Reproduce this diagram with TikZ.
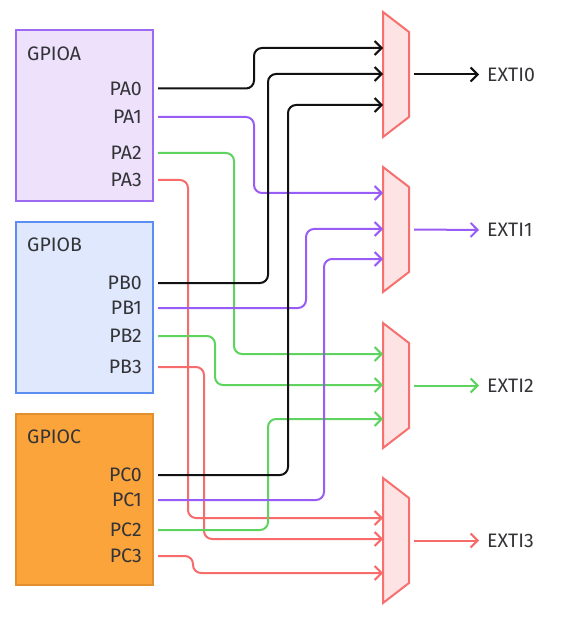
\documentclass[tikz,border=0pt]{standalone}
\usepackage{fontspec}
\setmainfont{Fira Sans}
\usetikzlibrary{arrows.meta}
\definecolor{txt}{HTML}{333338}
\definecolor{afill}{HTML}{EDE1FC}
\definecolor{adraw}{HTML}{9C6BF2}
\definecolor{bfill}{HTML}{DFE8FC}
\definecolor{bdraw}{HTML}{5B8EF0}
\definecolor{cfill}{HTML}{FBA43B}
\definecolor{cdraw}{HTML}{E0902F}
\definecolor{mfill}{HTML}{FDE3E3}
\definecolor{mdraw}{HTML}{F77070}
\definecolor{wblk}{HTML}{111111}
\definecolor{wpur}{HTML}{9A5CF6}
\definecolor{wgrn}{HTML}{5FD35F}
\definecolor{wred}{HTML}{F76B6B}
\begin{document}
\begin{tikzpicture}[x=1pt,y=-1pt,
  lbl/.style={font=\fontsize{19.5}{22}\selectfont, text=txt, inner sep=0pt, text height=13.5pt, text depth=0pt},
  port/.style={lbl, anchor=east},
  title/.style={lbl, anchor=west},
  gbox/.style={line width=2pt},
  mux/.style={draw=mdraw, fill=mfill, line width=2pt, line join=miter},
  wire/.style={line width=2pt, rounded corners=8pt, -{Straight Barb[length=7pt,width=14pt,line width=2pt]}},
]
\useasboundingbox (0,0) rectangle (560,617);

% GPIO boxes
\draw[gbox, draw=adraw, fill=afill] (16,30) rectangle (153,201);
\draw[gbox, draw=bdraw, fill=bfill] (16,222) rectangle (153,393);
\draw[gbox, draw=cdraw, fill=cfill] (16,414) rectangle (153,585);

\node[title] (ga) at (27,54) {GPIOA};
\node[title] (gb) at (27,245) {GPIOB};
\node[title] (gc) at (27,437) {GPIOC};

\node[port] (pa0) at (142,88.5) {PA0};
\node[port] (pa1) at (142,117) {PA1};
\node[port] (pa2) at (142,153) {PA2};
\node[port] (pa3) at (142,180) {PA3};
\node[port] (pb0) at (142,283) {PB0};
\node[port] (pb1) at (142,308) {PB1};
\node[port] (pb2) at (142,336) {PB2};
\node[port] (pb3) at (142,367) {PB3};
\node[port] (pc0) at (142,475) {PC0};
\node[port] (pc1) at (142,500) {PC1};
\node[port] (pc2) at (142,530) {PC2};
\node[port] (pc3) at (142,556) {PC3};

% wire start points
\foreach \n/\y in {a0/88.5,a1/117,a2/153,a3/180,b0/283,b1/308,b2/336,b3/367,c0/475,c1/500,c2/530,c3/556}
  \coordinate (s\n) at (158,\y);

% multiplexers
\foreach \k/\t in {0/12,1/167,2/323,3/478}{
  \draw[mux] (383,\t) -- (409,\t+20) -- (409,\t+105) -- (383,\t+125) -- cycle;
  \coordinate (o\k) at (414,\t+62.5);
}
% mux inputs
\coordinate (m0a) at (383,48);  \coordinate (m0b) at (383,74);  \coordinate (m0c) at (383,105);
\coordinate (m1a) at (383,193); \coordinate (m1b) at (383,229); \coordinate (m1c) at (383,259);
\coordinate (m2a) at (383,354); \coordinate (m2b) at (383,385); \coordinate (m2c) at (383,419);
\coordinate (m3a) at (383,518); \coordinate (m3b) at (383,539); \coordinate (m3c) at (383,573);

% red
\draw[wire, wred] (sa3) -| (188,518) -- (m3a);
\draw[wire, wred] (sb3) -| (204,539) -- (m3b);
\draw[wire, wred] (sc3) -| (193,573) -- (m3c);
% green
\draw[wire, wgrn] (sa2) -| (234,354) -- (m2a);
\draw[wire, wgrn] (sb2) -| (215,385) -- (m2b);
\draw[wire, wgrn] (sc2) -| (268,419) -- (m2c);
% purple
\draw[wire, wpur] (sa1) -| (254,193) -- (m1a);
\draw[wire, wpur] (sb1) -| (306,229) -- (m1b);
\draw[wire, wpur] (sc1) -| (324,259) -- (m1c);
% black
\draw[wire, wblk] (sa0) -| (254,48) -- (m0a);
\draw[wire, wblk] (sb0) -| (268,74) -- (m0b);
\draw[wire, wblk] (sc0) -| (288,105) -- (m0c);

% outputs
\node[title] (e0) at (487,74.5) {EXTI0};
\node[title] (e1) at (487,230) {EXTI1};
\node[title] (e2) at (487,385.5) {EXTI2};
\node[title] (e3) at (487,540.5) {EXTI3};
\draw[wire, wblk] (o0) -- ([xshift=-8pt]e0.west);
\draw[wire, wpur] (o1) -- ([xshift=-8pt]e1.west);
\draw[wire, wgrn] (o2) -- ([xshift=-8pt]e2.west);
\draw[wire, wred] (o3) -- ([xshift=-8pt]e3.west);
\end{tikzpicture}
\end{document}
